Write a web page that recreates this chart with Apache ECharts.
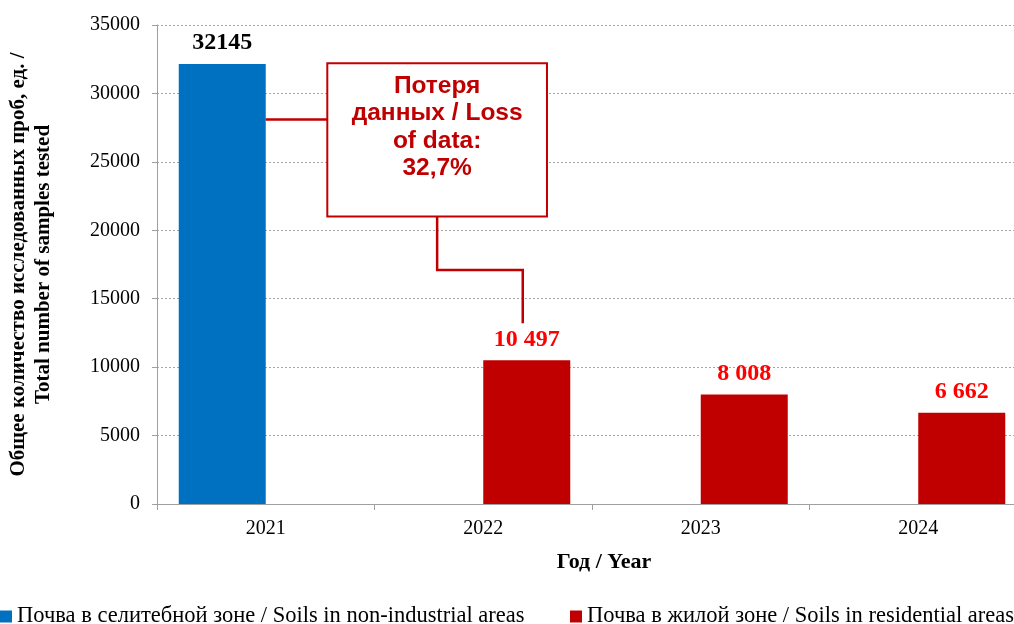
<!DOCTYPE html>
<html><head><meta charset="utf-8">
<script src="https://cdn.jsdelivr.net/npm/echarts@6/dist/echarts.min.js"></script>
<style>html,body{margin:0;padding:0;background:#fff}#c{width:1014px;height:624px}</style>
</head><body><div id="c"></div>
<script>
const categories = ['2021', '2022', '2023', '2024'];
const nonIndustrial = [32145, null, null, null];
const residential = [null, 10497, 8008, 6662];
const valueLabels = ['32145', '10 497', '8 008', '6 662'];
const seriesNames = ['Почва в селитебной зоне / Soils in non-industrial areas', 'Почва в жилой зоне / Soils in residential areas'];
const yMin = 0, yMax = 35000, yStep = 5000;
const lossText = ['Потеря', 'данных / Loss', 'of data:', '32,7%'];
const yTitle = 'Общее количество исследованных проб, ед. /\nTotal number of samples tested';
const xTitle = 'Год / Year';

const serif = 'Liberation Serif';
const legendBase = {
  top: 605, padding: 0, itemWidth: 12, itemHeight: 12, icon: 'rect', width: 600,
  textStyle: {fontFamily: serif, fontSize: 22.5, color: '#000'}
};
const chart = echarts.init(document.getElementById('c'), null, {renderer: 'canvas'});
const option = {
  animation: false,
  grid: {left: 157, top: 25, width: 870, bottom: 120, containLabel: false, outerBoundsMode: 'none'},
  legend: [
    Object.assign({}, legendBase, {left: 0, data: [seriesNames[0]]}),
    Object.assign({}, legendBase, {left: 570, data: [seriesNames[1]]})
  ],
  xAxis: {
    type: 'category', data: categories,
    name: xTitle, nameLocation: 'middle', nameGap: 47,
    nameTextStyle: {fontFamily: serif, fontSize: 22, fontWeight: 'bold', color: '#000', padding: [0,0,0,24]},
    axisLine: {lineStyle: {color: '#a0a0a0', width: 1}},
    axisTick: {show: true, length: 6, lineStyle: {color: '#a0a0a0'}},
    axisLabel: {fontFamily: serif, fontSize: 20, color: '#000', margin: 15}
  },
  yAxis: {
    type: 'value', min: yMin, max: yMax, interval: yStep,
    name: yTitle, nameLocation: 'middle', nameGap: 101, nameRotate: 90,
    nameTextStyle: {fontFamily: serif, fontSize: 21, fontWeight: 'bold', color: '#000', lineHeight: 25, align: 'center'},
    axisLine: {show: true, lineStyle: {color: '#a0a0a0', width: 1}},
    axisTick: {show: true, length: 5, lineStyle: {color: '#a0a0a0'}},
    axisLabel: {fontFamily: serif, fontSize: 20, color: '#000', margin: 17, formatter: v => String(v)},
    splitLine: {show: true, lineStyle: {color: '#a6a6a6', type: [2, 2], width: 1}}
  },
  series: [
    {
      name: seriesNames[0], type: 'bar', data: nonIndustrial,
      barGap: '0%', barCategoryGap: '20%',
      itemStyle: {color: '#0070c0'},
      label: {show: true, position: 'top', distance: 9, fontFamily: serif, fontSize: 24, fontWeight: 'bold', color: '#000',
        formatter: p => valueLabels[p.dataIndex]}
    },
    {
      name: seriesNames[1], type: 'bar', data: residential,
      barGap: '0%', barCategoryGap: '20%',
      itemStyle: {color: '#c00000'},
      label: {show: true, position: 'top', distance: 9, fontFamily: serif, fontSize: 24, fontWeight: 'bold', color: '#ff0000',
        formatter: p => valueLabels[p.dataIndex]}
    }
  ]
};
chart.setOption(option);

// Annotation callout, anchored in data coordinates
const c0 = chart.convertToPixel({xAxisIndex: 0}, categories[0]);
const c1 = chart.convertToPixel({xAxisIndex: 0}, categories[1]);
const band = c1 - c0;
const barW = band * 0.8 / 2;
const py = v => chart.convertToPixel({yAxisIndex: 0}, v);
const boxL = c0 + band * 0.283, boxR = c1 + band * 0.293;
const boxT = py(32200), boxB = py(21000);
const boxC = (boxL + boxR) / 2;
const red = '#c00000';
const elbowX = c1 + barW / 2 - 4;
chart.setOption({
  graphic: [
    {type: 'polyline', shape: {points: [[c0, py(28100)], [boxL, py(28100)]]}, style: {stroke: red, lineWidth: 2.5, fill: null}, z: 10},
    {type: 'polyline', shape: {points: [[boxC, boxB], [boxC, py(17100)], [elbowX, py(17100)], [elbowX, py(13200)]]}, style: {stroke: red, lineWidth: 2.5, fill: null}, z: 10},
    {type: 'rect', shape: {x: boxL, y: boxT, width: boxR - boxL, height: boxB - boxT}, style: {stroke: red, lineWidth: 2, fill: '#fff'}, z: 11},
    {type: 'text', x: boxC, y: boxT + 9, z: 12,
      style: {text: lossText.join('\n'), font: 'bold 24.5px "Liberation Sans", Arial, sans-serif', lineHeight: 27.5, fill: red, textAlign: 'center', textVerticalAlign: 'top'}}
  ]
});
</script>
</body></html>
